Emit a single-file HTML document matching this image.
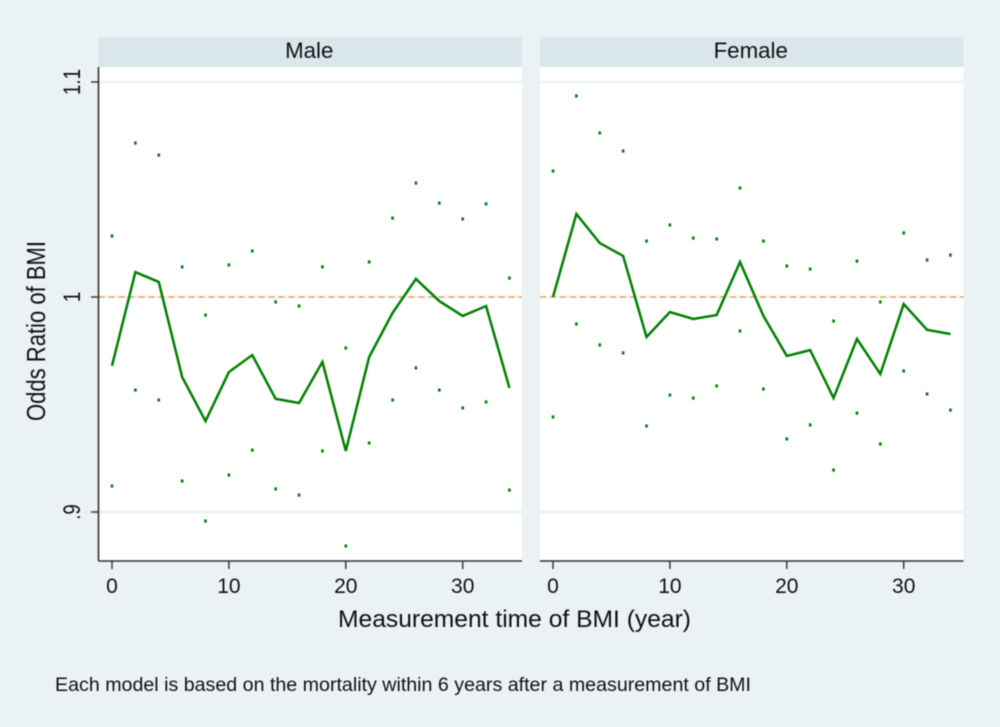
<!DOCTYPE html>
<html lang="en">
<head>
<meta charset="utf-8">
<title>Odds Ratio of BMI by measurement time</title>
<style>
html,body{margin:0;padding:0;background:#eaf2f3;}
body{width:1000px;height:727px;overflow:hidden;}
svg{display:block;filter:blur(0.4px);}
text{font-family:"Liberation Sans",sans-serif;fill:#111111;}
</style>
</head>
<body>
<svg id="chart" xmlns="http://www.w3.org/2000/svg" width="1000" height="727" viewBox="0 0 1000 727">
  <rect x="0" y="0" width="1000" height="727" fill="#eaf2f3"/>
  <text transform="translate(45,331) rotate(-90)" text-anchor="middle" font-size="25.5" textLength="180" lengthAdjust="spacingAndGlyphs">Odds Ratio of BMI</text>
  <text x="514.5" y="627" text-anchor="middle" font-size="24.5" textLength="353" lengthAdjust="spacingAndGlyphs">Measurement time of BMI (year)</text>
  <text x="55" y="691" font-size="19.5" textLength="696" lengthAdjust="spacingAndGlyphs" fill="#222222">Each model is based on the mortality within 6 years after a measurement of BMI</text>
  <g id="panels"></g>
</svg>
<script>
const xTicks = [0, 10, 20, 30];
const yTicks = [1.1, 1, 0.9];
const yTickLabels = ['1.1', '1', '.9'];
const years = [0, 2, 4, 6, 8, 10, 12, 14, 16, 18, 20, 22, 24, 26, 28, 30, 32, 34];
const referenceValue = 1;

const maleEstimate = [0.968, 1.0116, 1.007, 0.9628, 0.9423, 0.9651, 0.973, 0.9526, 0.9507, 0.9698, 0.9284, 0.9721, 0.9926, 1.0084, 0.9981, 0.9912, 0.9958, 0.9577];
const maleUpper = [1.0284, 1.0716, 1.066, 1.014, 0.9916, 1.0149, 1.0214, 0.9977, 0.9958, 1.014, 0.9763, 1.0163, 1.0367, 1.053, 1.0437, 1.0363, 1.0433, 1.0088];
const maleLower = [0.9121, 0.9567, 0.9521, 0.9144, 0.8958, 0.9172, 0.9288, 0.9107, 0.9079, 0.9284, 0.8842, 0.9321, 0.9521, 0.967, 0.9567, 0.9484, 0.9512, 0.9102];

const femaleEstimate = [1.0, 1.0386, 1.0251, 1.0191, 0.9814, 0.993, 0.9898, 0.9916, 1.0163, 0.9912, 0.9726, 0.9753, 0.953, 0.9805, 0.9642, 0.9967, 0.9847, 0.9828];
const femaleUpper = [1.0586, 1.0935, 1.0763, 1.0679, 1.026, 1.0335, 1.0274, 1.027, 1.0507, 1.026, 1.0144, 1.013, 0.9888, 1.0167, 0.9977, 1.0298, 1.0172, 1.0195];
const femaleLower = [0.9442, 0.9874, 0.9777, 0.974, 0.94, 0.9544, 0.953, 0.9586, 0.9842, 0.9572, 0.934, 0.9405, 0.9195, 0.946, 0.9316, 0.9656, 0.9549, 0.9474];

const NS = 'http://www.w3.org/2000/svg';
const root = document.getElementById('panels');
const PLOT_TOP = 67, PLOT_BOTTOM = 561, STRIP_TOP = 37;
const GREEN = '#008000', AXIS = '#303030', GRID = '#eaf2f3';

function yScale(v) { return 297 - (v - 1) * 2150; }

function make(tag, attrs, parent) {
  const el = document.createElementNS(NS, tag);
  for (const k in attrs) el.setAttribute(k, attrs[k]);
  parent.appendChild(el);
  return el;
}

function drawPanel(cfg) {
  const xScale = t => cfg.x0 + t * 11.69;
  const g = make('g', {}, root);
  
  

  const strip = make('rect', { x: cfg.left, y: STRIP_TOP, width: cfg.right - cfg.left, height: PLOT_TOP - STRIP_TOP, fill: '#d9e6eb' }, g);
  
  

  const stripLabel = make('text', { x: (cfg.left + cfg.right) / 2 - 1, y: 58, 'text-anchor': 'middle', 'font-size': 22.3 }, g);
  
  
  stripLabel.textContent = cfg.title;

  const plot = make('rect', { x: cfg.left, y: PLOT_TOP, width: cfg.right - cfg.left, height: PLOT_BOTTOM - PLOT_TOP, fill: '#ffffff' }, g);
  
  

  yTicks.forEach((v, i) => {
    const grid = make('line', { x1: cfg.left, x2: cfg.right, y1: yScale(v), y2: yScale(v), stroke: GRID, 'stroke-width': 2.4 }, g);
    
    
    if (cfg.showY) {
      const tick = make('line', { x1: 91, x2: cfg.left, y1: yScale(v), y2: yScale(v), stroke: AXIS, 'stroke-width': 1.4 }, g);
      
      
      const label = make('text', { transform: 'translate(80,' + yScale(v) + ') rotate(-90) scale(0.76,1)', 'text-anchor': 'middle', 'font-size': 24.5 }, g);
      
      
      label.textContent = yTickLabels[i];
    }
  });

  const ref = make('line', { x1: cfg.left, x2: cfg.right, y1: yScale(referenceValue), y2: yScale(referenceValue), stroke: '#ee9550', 'stroke-width': 1.2, 'stroke-dasharray': '6 4' }, g);
  
  

  const xAxis = make('line', { x1: cfg.left, x2: cfg.right, y1: PLOT_BOTTOM, y2: PLOT_BOTTOM, stroke: AXIS, 'stroke-width': 1.6 }, g);
  
  

  if (cfg.showY) {
    const yAxis = make('line', { x1: cfg.left, x2: cfg.left, y1: PLOT_TOP, y2: PLOT_BOTTOM, stroke: AXIS, 'stroke-width': 1.6 }, g);
    
    
  }

  xTicks.forEach(t => {
    const tick = make('line', { x1: xScale(t), x2: xScale(t), y1: PLOT_BOTTOM, y2: 569, stroke: AXIS, 'stroke-width': 1.4 }, g);
    
    
    const label = make('text', { x: xScale(t), y: 593, 'text-anchor': 'middle', 'font-size': 21 }, g);
    
    
    label.textContent = String(t);
  });

  const pts = years.map((t, i) => xScale(t).toFixed(2) + ',' + yScale(cfg.estimate[i]).toFixed(2)).join(' ');
  const line = make('polyline', { points: pts, fill: 'none', stroke: GREEN, 'stroke-width': 2.5, 'stroke-linejoin': 'miter' }, g);
  
  

  [['upper', cfg.upper], ['lower', cfg.lower]].forEach(pair => {
    years.forEach((t, i) => {
      const dot = make('rect', { x: xScale(t) - 1.3, y: yScale(pair[1][i]) - 1.6, width: 2.6, height: 3.2, fill: GREEN }, g);
      
      
    });
  });
}

drawPanel({ key: 'male', title: 'Male', left: 98.5, right: 522, x0: 112, showY: true, estimate: maleEstimate, upper: maleUpper, lower: maleLower });
drawPanel({ key: 'female', title: 'Female', left: 540, right: 963.5, x0: 553, showY: false, estimate: femaleEstimate, upper: femaleUpper, lower: femaleLower });
</script>
</body>
</html>
